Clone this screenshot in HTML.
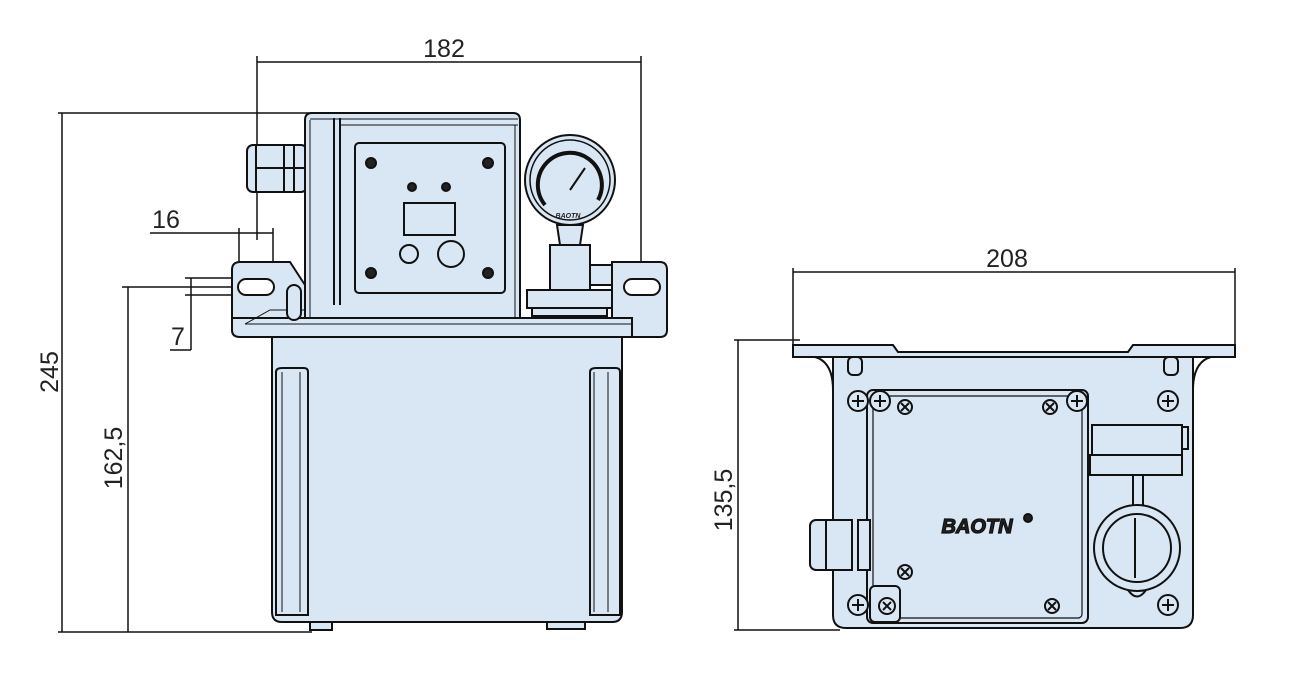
<!DOCTYPE html>
<html><head><meta charset="utf-8"><style>html,body{margin:0;padding:0;background:#fff}svg{display:block}text{font-family:"Liberation Sans",sans-serif;fill:#222}</style></head>
<body>
<svg width="1300" height="678" viewBox="0 0 1300 678" xmlns="http://www.w3.org/2000/svg">
<g fill="none" stroke="#111" stroke-width="1.5">
<!-- dimensions left -->
<line x1="257" y1="62" x2="641" y2="62"/>
<line x1="257" y1="56" x2="257" y2="240"/>
<line x1="641" y1="56" x2="641" y2="262"/>
<line x1="58" y1="113" x2="320" y2="113"/>
<line x1="58" y1="632" x2="312" y2="632"/>
<line x1="62" y1="113" x2="62" y2="632"/>
<line x1="122" y1="287" x2="240" y2="287"/>
<line x1="128" y1="287" x2="128" y2="632"/>
<line x1="150" y1="233" x2="273" y2="233"/>
<line x1="239" y1="228" x2="239" y2="262"/>
<line x1="273" y1="228" x2="273" y2="262"/>
<line x1="185" y1="278" x2="240" y2="278"/>
<line x1="185" y1="295" x2="240" y2="295"/>
<line x1="191" y1="278" x2="191" y2="350"/>
<line x1="170" y1="350" x2="191" y2="350"/>
<!-- dimensions right -->
<line x1="793" y1="272" x2="1235" y2="272"/>
<line x1="793" y1="268" x2="793" y2="350"/>
<line x1="1235" y1="268" x2="1235" y2="350"/>
<line x1="734" y1="340" x2="800" y2="340"/>
<line x1="734" y1="630" x2="840" y2="630"/>
<line x1="738" y1="340" x2="738" y2="630"/>
</g>
<text x="444" y="57" font-size="25" text-anchor="middle">182</text>
<text x="166" y="228" font-size="25" text-anchor="middle">16</text>
<text x="178" y="345" font-size="25" text-anchor="middle">7</text>
<text x="1007" y="267" font-size="25" text-anchor="middle">208</text>
<text transform="translate(58,372) rotate(-90)" font-size="25" text-anchor="middle">245</text>
<text transform="translate(122,458) rotate(-90)" font-size="25" text-anchor="middle">162,5</text>
<text transform="translate(732,500) rotate(-90)" font-size="25" text-anchor="middle">135,5</text>

<g fill="#d9e7f5" stroke="#111" stroke-width="2">
<!-- LEFT VIEW -->
<!-- gland -->
<rect x="247" y="145" width="60" height="47" rx="6"/>
<line x1="256" y1="145" x2="256" y2="192"/><line x1="284" y1="145" x2="284" y2="192"/><line x1="294" y1="145" x2="294" y2="192"/>
<line x1="256" y1="168" x2="307" y2="168"/>
<!-- top housing -->
<path d="M305 320 V120 Q305 113 312 113 H513 Q520 113 520 120 V320 Z"/>
<line x1="310" y1="120" x2="310" y2="318" stroke-width="1"/>
<line x1="334" y1="118" x2="334" y2="305"/>
<line x1="340" y1="118" x2="340" y2="305"/>
<line x1="310" y1="119" x2="518" y2="119" stroke-width="1"/>
<line x1="340" y1="125" x2="518" y2="125" stroke-width="1"/>
<line x1="515" y1="125" x2="515" y2="318" stroke-width="1"/>
<rect x="355" y="143" width="150" height="150" rx="4"/>
<circle cx="371" cy="163" r="5" fill="#222"/><circle cx="488" cy="163" r="5" fill="#222"/>
<circle cx="371" cy="273" r="5" fill="#222"/><circle cx="488" cy="273" r="5" fill="#222"/>
<circle cx="412" cy="187" r="4" fill="#222"/><circle cx="446" cy="187" r="4" fill="#222"/>
<rect x="404" y="203" width="51" height="32" fill="none"/>
<circle cx="409" cy="254" r="9" fill="none"/><circle cx="451" cy="254" r="13" fill="none"/>
<!-- gauge -->
<rect x="550" y="245" width="40" height="48"/>
<rect x="590" y="265" width="22" height="20"/>
<path d="M557 225 L583 225 L580 245 L560 245 Z"/>
<circle cx="570" cy="180" r="45"/>
<circle cx="570" cy="180" r="40" fill="none" stroke-width="1.5"/>
<path d="M545 205 A32 32 0 1 1 598 200" fill="none" stroke-width="4"/>
<line x1="570" y1="190" x2="585" y2="168" stroke-width="2"/>
<text x="568" y="218" font-size="7" font-weight="bold" font-style="italic" stroke="none" text-anchor="middle">BAOTN</text>
<rect x="527" y="290" width="85" height="18"/>
<rect x="532" y="308" width="75" height="8"/>
<!-- mounting plate w/ tabs -->
<path d="M232 270 Q232 262 240 262 H290 L305 285 V318 H232 Z"/>
<path d="M612 262 H660 Q667 262 667 270 V330 Q667 337 660 337 H612 Z"/>
<path d="M232 318 H632 V337 H240 Q232 337 232 330 Z"/>
<line x1="245" y1="324" x2="632" y2="324" stroke-width="1"/>
<path d="M245 324 L270 310 H305" fill="none" stroke-width="1"/>
<rect x="287" y="285" width="14" height="35" rx="7"/>
<rect x="238" y="279" width="36" height="16" rx="8" fill="#fff"/>
<rect x="624" y="279" width="36" height="16" rx="8" fill="#fff"/>
<!-- reservoir -->
<path d="M272 337 H622 V612 Q622 622 612 622 H282 Q272 622 272 612 Z"/>
<path d="M276 372 Q276 368 282 368 H304 Q308 368 308 372 V615 H276 Z" fill="none"/>
<line x1="282" y1="372" x2="282" y2="612" stroke-width="1"/>
<line x1="300" y1="372" x2="300" y2="612" stroke-width="1"/>
<path d="M590 372 Q590 368 596 368 H616 Q620 368 620 372 V615 H590 Z" fill="none"/>
<line x1="594" y1="372" x2="594" y2="612" stroke-width="1"/>
<line x1="608" y1="372" x2="608" y2="612" stroke-width="1"/>
<rect x="310" y="622" width="22" height="8"/>
<rect x="547" y="622" width="38" height="7"/>

<!-- RIGHT VIEW -->
<path d="M833 357 H1193 V615 Q1193 628 1180 628 H846 Q833 628 833 615 Z"/>
<path d="M793 345 H893 L898 352 H1128 L1133 345 H1235 V357 H793 Z"/>
<path d="M815 357 Q833 362 833 390 M1211 357 Q1193 362 1193 390" fill="none"/>
<rect x="848" y="357" width="14" height="18" rx="5"/>
<rect x="1164" y="357" width="14" height="18" rx="5"/>
<rect x="867" y="390" width="221" height="233" rx="6"/>
<rect x="873" y="396" width="209" height="222" rx="4" fill="none" stroke-width="1.2"/>
<rect x="870" y="586" width="30" height="36" rx="5"/>
<rect x="1092" y="425" width="90" height="30"/>
<rect x="1090" y="455" width="92" height="20"/>
<rect x="1182" y="427" width="6" height="22"/>
<line x1="1133" y1="475" x2="1133" y2="505"/><line x1="1143" y1="475" x2="1143" y2="505"/>
<circle cx="1137" cy="548" r="43"/>
<circle cx="1137" cy="548" r="34" fill="none"/>
<line x1="1135" y1="518" x2="1135" y2="578"/>
<path d="M1128 590 Q1137 603 1146 590" fill="none"/>
<rect x="810" y="520" width="26" height="50" rx="6"/>
<rect x="826" y="520" width="26" height="50"/>
<rect x="858" y="520" width="12" height="50"/>
</g>
<!-- screws right -->
<g fill="#d9e7f5" stroke="#111" stroke-width="2">
<circle cx="858" cy="401" r="10"/><circle cx="880" cy="401" r="10"/><circle cx="905" cy="407" r="7"/>
<circle cx="1050" cy="407" r="7"/><circle cx="1077" cy="401" r="10"/><circle cx="1168" cy="401" r="10"/>
<circle cx="905" cy="572" r="7"/><circle cx="858" cy="605" r="10"/><circle cx="887" cy="606" r="8"/>
<circle cx="1052" cy="606" r="7"/><circle cx="1168" cy="605" r="10"/><circle cx="1028" cy="518" r="4" fill="#222"/>
</g>
<g stroke="#111" stroke-width="2">
<path d="M852 401h12M858 395v12M874 401h12M880 395v12M901 403l8 8M909 403l-8 8M1046 403l8 8M1054 403l-8 8M1071 401h12M1077 395v12M1162 401h12M1168 395v12M901 568l8 8M909 568l-8 8M852 605h12M858 599v12M883 602l8 8M891 602l-8 8M1048 602l8 8M1056 602l-8 8M1162 605h12M1168 599v12"/>
</g>
<text x="977" y="533" font-size="20" font-weight="bold" font-style="italic" text-anchor="middle" fill="#fff" stroke="#111" stroke-width="1.2">BAOTN</text>
</svg>
</body></html>
